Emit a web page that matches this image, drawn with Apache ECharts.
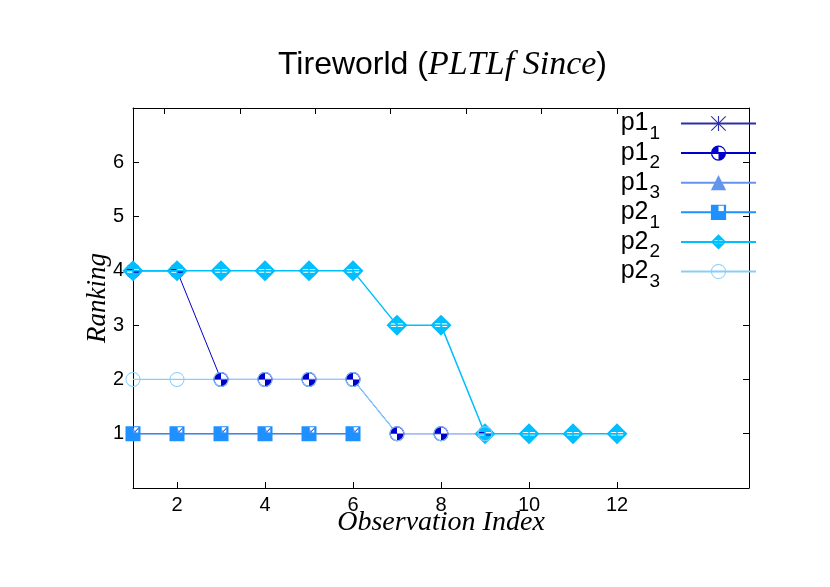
<!DOCTYPE html>
<html>
<head>
<meta charset="utf-8">
<script src="https://cdn.jsdelivr.net/npm/echarts@6/dist/echarts.min.js"></script>
<style>html,body{margin:0;padding:0;background:#fff}#c{width:830px;height:587px}</style>
</head>
<body>
<div id="c"></div>
<script>
// ---- data ----
const observationIndex = [1, 2, 3, 4, 5, 6, 7, 8, 9, 10, 11, 12];
const p1_1 = [1, 1, 1, 1, 1, 1];
const p1_2 = [4, 4, 2, 2, 2, 2, 1, 1, 1];
const p1_3 = [1, 1, 1, 1, 1, 1];
const p2_1 = [1, 1, 1, 1, 1, 1];
const p2_2 = [4, 4, 4, 4, 4, 4, 3, 3, 1, 1, 1, 1];
const p2_3 = [2, 2, 2, 2, 2, 2, 1, 1, 1];
const xTickLabels = [2, 4, 6, 8, 10, 12];
const yTickLabels = [1, 2, 3, 4, 5, 6];
const topTicks = [1.714, 3.429, 5.143, 6.857, 8.571, 10.286, 12];

// ---- symbols ----
const SYM_ASTERISK = 'path://M9.25,0L10.75,0L10.75,20L9.25,20Z M0,9.25L20,9.25L20,10.75L0,10.75Z M1,0L20,19L19,20L0,1Z M19,0L20,1L1,20L0,19Z';
const SYM_QCIRCLE = 'path://M0,10A10,10,0,1,1,20,10A10,10,0,1,1,0,10Z M1.6,10A8.4,8.4,0,1,0,18.4,10A8.4,8.4,0,1,0,1.6,10Z M10,10L1.6,10A8.4,8.4,0,0,1,10,1.6Z M10,10L18.4,10A8.4,8.4,0,0,1,10,18.4Z';
const SYM_SQUARE = 'path://M0,0L20,0L20,20L0,20Z M10,1.5L10,8.5L17,8.5L17,1.5Z';
const SYM_DIAMOND = 'path://M10,0L20,10L10,20L0,10Z M10,3L3,10L10,17L17,10Z M10,0L18.3,8.3L1.7,8.3Z M10,20L1.7,11.7L18.3,11.7Z M2,9.3L18,9.3L18,10.7L2,10.7Z M9.3,7L10.7,7L10.7,13L9.3,13Z';
const SYM_RING = 'path://M0,10A10,10,0,1,1,20,10A10,10,0,1,1,0,10Z M1.3,10A8.7,8.7,0,1,0,18.7,10A8.7,8.7,0,1,0,1.3,10Z';

function pairs(arr) { return arr.map((v, i) => [observationIndex[i], v]); }

function mk(name, arr, color, symbol, size, lw) {
  return {
    name: name, type: 'line', data: pairs(arr),
    symbol: symbol, symbolSize: size, showSymbol: true,
    color: color,
    lineStyle: { color: color, width: lw },
    itemStyle: { color: color, borderWidth: 0 },
    emphasis: { disabled: true },
    animation: false, z: 2
  };
}

const chart = echarts.init(document.getElementById('c'), null, { renderer: 'canvas' });
const SANS = 'Liberation Sans, Arial, sans-serif';
const SERIF = 'Liberation Serif, Times New Roman, serif';

chart.setOption({
  animation: false,
  backgroundColor: '#fff',
  title: {
    text: '{a|Tireworld (}{b|PLTLf Since}{a|)}',
    left: 273, top: 41,
    textStyle: {
      fontWeight: 'normal',
      rich: {
        a: { fontFamily: SANS, fontWeight: 'normal', fontSize: 32, color: '#000', lineHeight: 38 },
        b: { fontFamily: SERIF, fontWeight: 'normal', fontStyle: 'italic', fontSize: 34, color: '#000', lineHeight: 38 }
      }
    }
  },
  legend: {
    orient: 'vertical',
    right: 73, top: 104, padding: 0,
    align: 'right',
    itemWidth: 75, itemHeight: 19, itemGap: -9.4,
    selectedMode: false,
    data: ['p1_1', 'p1_2', 'p1_3', 'p2_1', 'p2_2', 'p2_3'],
    formatter: function (n) {
      const parts = n.substring(1).split('_');
      return '{m|p' + parts[0] + '}{s|' + parts[1] + '}';
    },
    textStyle: {
      padding: [0, 16, 0, 0],
      rich: {
        m: { fontFamily: SANS, fontSize: 25, color: '#000', lineHeight: 26 },
        s: { fontFamily: SANS, fontSize: 19, color: '#000', lineHeight: 18, padding: [20, 0, 0, 1] }
      }
    }
  },
  grid: { left: 133, right: 81, top: 108, bottom: 99, containLabel: false },
  xAxis: [{
    type: 'value', min: 1, max: 15,
    name: 'Observation Index', nameLocation: 'middle', nameGap: 21, nameMoveOverlap: false,
    nameTextStyle: { fontFamily: SERIF, fontStyle: 'italic', fontSize: 28, color: '#000' },
    axisLine: { show: true, lineStyle: { color: '#000', width: 1 } },
    axisTick: { show: true, inside: true, length: 6, customValues: xTickLabels, lineStyle: { color: '#000' } },
    axisLabel: { show: true, customValues: xTickLabels, margin: 7, fontFamily: SANS, fontSize: 20, color: '#000' },
    splitLine: { show: false }
  }, {
    type: 'value', min: 1, max: 15, position: 'top',
    axisLine: { show: true, onZero: false, lineStyle: { color: '#000', width: 1 } },
    axisTick: { show: true, inside: true, length: 6, customValues: topTicks, lineStyle: { color: '#000' } },
    axisLabel: { show: false },
    splitLine: { show: false }
  }],
  yAxis: [{
    type: 'value', min: 0, max: 7, interval: 1,
    name: 'Ranking', nameLocation: 'middle', nameGap: 22, nameMoveOverlap: false,
    nameTextStyle: { fontFamily: SERIF, fontStyle: 'italic', fontSize: 27, color: '#000' },
    axisLine: { show: true, lineStyle: { color: '#000', width: 1 } },
    axisTick: { show: true, inside: true, length: 6, customValues: yTickLabels, lineStyle: { color: '#000' } },
    axisLabel: { show: true, customValues: yTickLabels, margin: 9, fontFamily: SANS, fontSize: 20, color: '#000' },
    splitLine: { show: false }
  }, {
    type: 'value', min: 0, max: 7, interval: 1, position: 'right',
    axisLine: { show: true, onZero: false, lineStyle: { color: '#000', width: 1 } },
    axisTick: { show: true, inside: true, length: 6, customValues: yTickLabels, lineStyle: { color: '#000' } },
    axisLabel: { show: false },
    splitLine: { show: false }
  }],
  series: [
    mk('p1_1', p1_1, '#2e2eaa', SYM_ASTERISK, 13, 1),
    mk('p1_2', p1_2, '#0000cd', SYM_QCIRCLE, 15, 1),
    mk('p1_3', p1_3, '#6495ed', 'triangle', 13, 1),
    mk('p2_1', p2_1, '#1e90ff', SYM_SQUARE, 15, 1.3),
    mk('p2_2', p2_2, '#00bfff', SYM_DIAMOND, 21, 1.5),
    mk('p2_3', p2_3, '#87cefa', SYM_RING, 15, 1.2)
  ]
});
</script>
</body>
</html>
